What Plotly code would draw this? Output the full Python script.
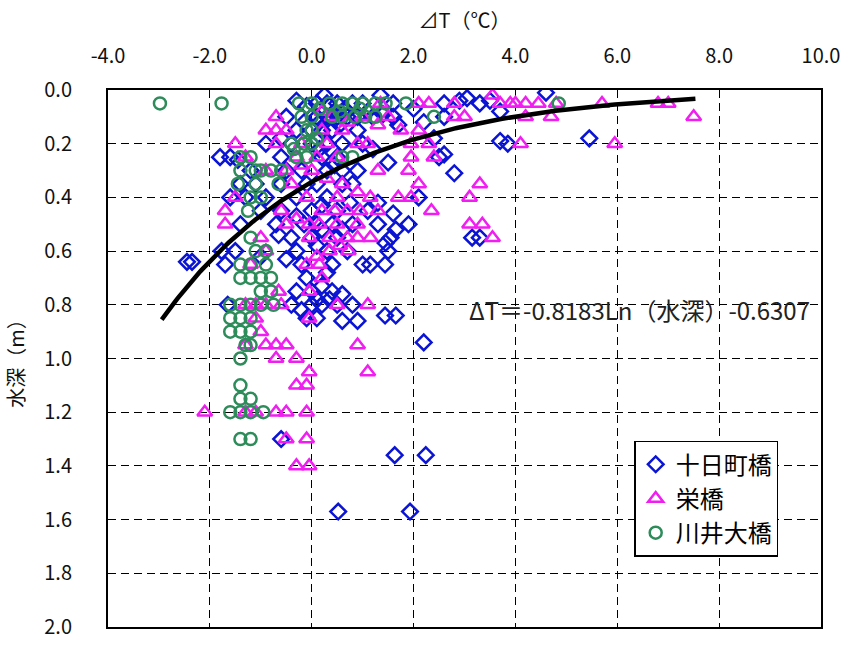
import numpy as np
import plotly.graph_objects as go

# --- 十日町橋 (ΔT [°C], 水深 [m]) ---
tokamachi_dt = [
    0.25, 1.35, 4.6,
    -0.3, -0.1, 0.1, 0.3, 0.5, 0.8, 1.0, 1.6, 2.6, 2.9, 3.05, 3.3, 3.5,
    0.1, 0.3, 0.5, 0.7, 0.9, 1.2, 1.6, 2.0, 2.6, 3.7, -0.5,
    0.45, 0.65, 1.1, 1.4, -0.15, 0.15, 0.55, 0.9,
    -0.3, 0.0, 0.2, 0.4, 1.7, 2.2,
    -0.9, -0.4, 0.0, 0.3, 0.6, 1.0, 3.7, 3.85, 5.45, 2.4, 0.15, -0.6,
    -1.8, -1.6, -1.45, -0.6, 0.2, 0.5, 2.5, 2.6, 1.2, 1.5, 0.45,
    -1.2, -0.5, -0.2, 0.6, 0.9, 2.8, 0.3,
    -1.4, -1.1, -0.6, 0.1, 0.6, 0.8, -0.1,
    -1.6, -1.3, -0.9, -0.3, 0.3, 1.3, 2.1, 0.2, 0.75,
    -1.0, -0.6, 0.0, 0.5, 1.1, 1.6, -0.3,
    -1.4, -0.7, 0.1, 0.4, 0.8, 1.65, 1.9, 0.2, -0.15, 0.6, 1.3,
    -0.65, -0.4, 0.0, 0.5, 1.55, 3.15, 3.3, 1.45,
    -1.77, -1.5, -0.3, 0.1, 0.3, 1.5, 0.7, -0.5, -1.0,
    -2.45, -2.35, -1.7, -0.2, 0.4, 1.0, 1.15, 1.44,
    -0.1, 0.3,
    -0.3, 0.0, 0.4, 0.6, 0.2,
    -1.65, -0.4, 0.0, 0.2, 0.5, 0.8, 0.35, 0.1, -0.2,
    -0.1, 0.1, 0.9, 1.44, 1.65, 0.6,
    2.2,
    -0.6,
    1.63, 2.24,
    0.52, 1.93,
]
tokamachi_depth = [
    0.02, 0.02, 0.01,
    0.04, 0.06, 0.05, 0.05, 0.05, 0.05, 0.05, 0.05, 0.05, 0.04, 0.03, 0.05, 0.04,
    0.10, 0.10, 0.10, 0.10, 0.10, 0.10, 0.10, 0.07, 0.10, 0.08, 0.10,
    0.08, 0.07, 0.08, 0.09, 0.12, 0.12, 0.13, 0.15,
    0.15, 0.15, 0.15, 0.15, 0.13, 0.12,
    0.20, 0.20, 0.20, 0.20, 0.20, 0.20, 0.19, 0.20, 0.18, 0.18, 0.22, 0.18,
    0.25, 0.25, 0.26, 0.25, 0.25, 0.25, 0.25, 0.24, 0.22, 0.27, 0.28,
    0.30, 0.30, 0.30, 0.30, 0.30, 0.31, 0.30,
    0.35, 0.35, 0.35, 0.35, 0.35, 0.35, 0.35,
    0.40, 0.40, 0.40, 0.40, 0.40, 0.42, 0.40, 0.43, 0.42,
    0.45, 0.45, 0.45, 0.45, 0.45, 0.46, 0.47,
    0.50, 0.50, 0.50, 0.50, 0.50, 0.52, 0.50, 0.52, 0.50, 0.52, 0.50,
    0.54, 0.55, 0.55, 0.55, 0.55, 0.55, 0.55, 0.57,
    0.60, 0.60, 0.60, 0.58, 0.60, 0.60, 0.60, 0.63, 0.62,
    0.64, 0.64, 0.65, 0.65, 0.65, 0.65, 0.65, 0.65,
    0.70, 0.68,
    0.75, 0.75, 0.75, 0.76, 0.73,
    0.80, 0.80, 0.80, 0.80, 0.80, 0.80, 0.78, 0.78, 0.82,
    0.85, 0.85, 0.86, 0.84, 0.84, 0.86,
    0.94,
    1.30,
    1.36, 1.36,
    1.57, 1.57,
]

# --- 栄橋 ---
sakae_dt = [
    3.55,
    1.35, 2.1, 2.3, 2.8, 3.7, 3.9, 4.0, 4.2, 4.45, 4.8, 5.7, 6.8, 7.0,
    -0.7, 0.4, 1.0, 2.8, 4.2, 4.7, 7.5, 3.0, 1.5, 0.2, 0.7, 1.3,
    -0.9, -0.7, -0.5, 0.6, 1.75, 2.1, 0.2,
    -1.5, -0.7, 0.3, 0.9, 1.1, 1.95, 2.3, 4.1, 5.95, -0.2,
    -1.3, -0.3, 0.1, 1.95, 2.4, 0.5, -0.2,
    -0.9, 1.3, 1.9, 0.0, -0.5, 0.3,
    2.1, 3.3, -0.4, 0.6, 0.9,
    -0.1, 0.5, 1.15, 1.7, 1.95, 3.1, -1.5,
    -1.7, -0.6, 0.2, 0.45, 0.7, 0.95, 1.3, 2.35, -0.3,
    -1.7, -0.5, -0.05, 0.5, 0.9, 3.1, 3.35, 0.15,
    -0.05, 0.35, 0.7, 0.9, 1.15, 3.55, -1.0, 0.55,
    0.35, 0.72, -0.9, 0.1,
    -0.1, 0.15, -1.2, 0.2,
    -0.65, -0.05,
    -1.3, -1.1, -0.9, -0.6, 0.5, 1.1,
    -1.1, -0.05,
    -1.0,
    -1.3, -0.9, -0.7, -0.5, 0.9,
    -0.7, -0.3,
    -0.05, 1.1,
    -0.3, -0.1,
    -2.1, -1.3, -1.1, -0.7, -0.5, -0.1,
    -0.5, -0.1,
    -0.3, -0.05,
]
sakae_depth = [
    0.02,
    0.05, 0.05, 0.05, 0.05, 0.05, 0.05, 0.05, 0.05, 0.05, 0.05, 0.05, 0.05, 0.05,
    0.10, 0.10, 0.10, 0.10, 0.10, 0.10, 0.10, 0.10, 0.10, 0.08, 0.12, 0.13,
    0.15, 0.15, 0.15, 0.15, 0.15, 0.15, 0.15,
    0.20, 0.20, 0.20, 0.20, 0.20, 0.20, 0.20, 0.20, 0.20, 0.20,
    0.25, 0.25, 0.25, 0.25, 0.25, 0.25, 0.28,
    0.30, 0.30, 0.30, 0.30, 0.30, 0.33,
    0.35, 0.35, 0.35, 0.35, 0.38,
    0.40, 0.40, 0.40, 0.40, 0.40, 0.40, 0.40,
    0.45, 0.45, 0.45, 0.45, 0.45, 0.45, 0.45, 0.45, 0.48,
    0.50, 0.50, 0.50, 0.50, 0.50, 0.50, 0.50, 0.50,
    0.55, 0.55, 0.55, 0.55, 0.55, 0.55, 0.55, 0.58,
    0.60, 0.60, 0.60, 0.62,
    0.65, 0.65, 0.65, 0.70,
    0.75, 0.75,
    0.80, 0.80, 0.80, 0.80, 0.80, 0.80,
    0.85, 0.85,
    0.90,
    0.95, 0.95, 0.95, 0.95, 0.95,
    1.00, 1.00,
    1.05, 1.05,
    1.10, 1.10,
    1.20, 1.20, 1.20, 1.20, 1.20, 1.20,
    1.30, 1.30,
    1.40, 1.40,
]

# --- 川井大橋 ---
kawai_dt = [
    -2.98, -1.77, -0.25, 0.0, 0.35, 0.6, 0.8, 1.0, 1.25, 1.45, 1.85, 4.85,
    0.15, 0.55, 0.95,
    0.0, 0.4, 0.6, 0.85, 1.05, 1.25, 2.4, -0.2,
    0.0, -0.1,
    -0.4, -0.15, 0.0, -0.35, 0.1,
    -1.4, -1.2, -0.3, -0.1, 0.6, 0.8,
    -1.4, -1.1, -0.8, -0.6, -1.0,
    -1.45, -1.1, -0.65,
    -1.2, -1.0,
    -1.25,
    -1.2,
    -1.1, -0.9,
    -1.4, -1.2, -0.9,
    -1.4, -1.2, -1.0, -0.8,
    -1.0, -0.8,
    -1.6, -1.4, -1.2, -1.0, -0.75,
    -1.6, -1.4, -1.2,
    -1.6, -1.4, -1.2,
    -1.3, -1.2,
    -1.4,
    -1.4,
    -1.4, -1.2,
    -1.6, -1.4, -1.2, -0.95,
    -1.4, -1.2,
]
kawai_depth = [
    0.05, 0.05, 0.05, 0.05, 0.05, 0.05, 0.05, 0.05, 0.05, 0.05, 0.05, 0.05,
    0.07, 0.08, 0.07,
    0.10, 0.10, 0.10, 0.10, 0.10, 0.10, 0.10, 0.10,
    0.15, 0.15,
    0.20, 0.20, 0.20, 0.22, 0.18,
    0.25, 0.25, 0.25, 0.25, 0.25, 0.25,
    0.30, 0.30, 0.30, 0.30, 0.30,
    0.35, 0.35, 0.35,
    0.40, 0.40,
    0.45,
    0.55,
    0.60, 0.60,
    0.65, 0.65, 0.65,
    0.70, 0.70, 0.70, 0.70,
    0.75, 0.75,
    0.80, 0.80, 0.80, 0.80, 0.80,
    0.85, 0.85, 0.85,
    0.90, 0.90, 0.90,
    0.95, 0.95,
    1.00,
    1.10,
    1.15, 1.15,
    1.20, 1.20, 1.20, 1.20,
    1.30, 1.30,
]

# logarithmic trend curve  ΔT = a·ln(depth) + b, drawn over the observed depth span
trend_a = -3.22
trend_b = -3.45
trend_depth_range = [0.033, 0.855]
equation_text = "ΔT＝-0.8183Ln（水深）-0.6307"

x_ticks = [-4, -2, 0, 2, 4, 6, 8, 10]
x_tick_labels = ["-4.0", "-2.0", "0.0", "2.0", "4.0", "6.0", "8.0", "10.0"]
y_ticks = [0.0, 0.2, 0.4, 0.6, 0.8, 1.0, 1.2, 1.4, 1.6, 1.8, 2.0]
y_tick_labels = ["0.0", "0.2", "0.4", "0.6", "0.8", "1.0", "1.2", "1.4", "1.6", "1.8", "2.0"]

JP = "Noto Sans CJK JP, sans-serif"
NUM = "Liberation Sans Narrow, Noto Sans CJK JP, sans-serif"

fig = go.Figure()

series = [
    ("十日町橋", tokamachi_dt, tokamachi_depth, "diamond-open", "#0A14D2", 12),
    ("栄橋", sakae_dt, sakae_depth, "triangle-up-open", "#F01EF0", 13),
    ("川井大橋", kawai_dt, kawai_depth, "circle-open", "#2E8B5A", 12),
]
for name, xs, ys, sym, col, sz in series:
    fig.add_trace(go.Scatter(
        x=xs, y=ys, mode="markers", name=name,
        marker=dict(symbol=sym, size=sz, color=col, line=dict(width=2.5, color=col)),
    ))

d_curve = np.geomspace(trend_depth_range[0], trend_depth_range[1], 200)
t_curve = trend_a * np.log(d_curve) + trend_b
fig.add_trace(go.Scatter(
    x=t_curve, y=d_curve, mode="lines", showlegend=False,
    line=dict(color="black", width=4.5),
))

fig.add_annotation(
    x=0.503, y=0.591, xref="paper", yref="paper", xanchor="left", yanchor="middle",
    text=equation_text, showarrow=False,
    font=dict(family=JP, size=24, color="#222222"),
)

fig.update_layout(
    width=852, height=652,
    margin=dict(l=108, r=23, t=90, b=12),
    paper_bgcolor="white", plot_bgcolor="white",
    legend=dict(
        x=0.738, y=0.347, xanchor="left", yanchor="top",
        bgcolor="white", bordercolor="black", borderwidth=1.5,
        font=dict(family=JP, size=24, color="black"),
        itemwidth=30, tracegroupgap=0,
    ),
    xaxis=dict(
        side="top", range=[-4, 10], tickvals=x_ticks, ticktext=x_tick_labels,
        showgrid=True, gridcolor="black", gridwidth=1.2, griddash="8px,5px",
        showline=True, linecolor="black", linewidth=2, mirror=True,
        zeroline=False, ticks="", ticklabelstandoff=17,
        tickfont=dict(family=NUM, size=20, color="#111111"),
        title=dict(text="⊿T（℃）", font=dict(family=JP, size=20, color="#111111"), standoff=6),
    ),
    yaxis=dict(
        range=[2.0, 0.0], tickvals=y_ticks, ticktext=y_tick_labels,
        showgrid=True, gridcolor="black", gridwidth=1.2, griddash="8px,5px",
        showline=True, linecolor="black", linewidth=2, mirror=True,
        zeroline=False, ticks="", ticklabelstandoff=30,
        tickfont=dict(family=NUM, size=20, color="#111111"),
        title=dict(text="水深（m）", font=dict(family=JP, size=20, color="#111111"), standoff=14),
    ),
)

fig.write_html("out.html")
